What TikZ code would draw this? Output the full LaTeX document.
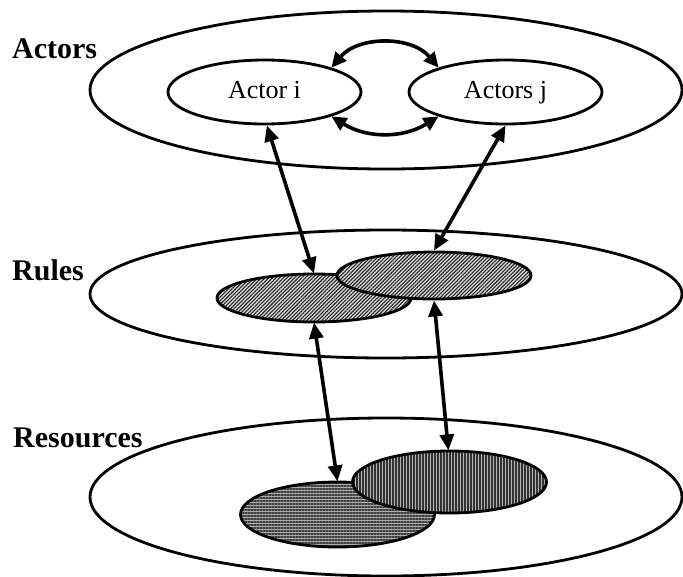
\documentclass[tikz,border=0pt]{standalone}
\usepackage{fontspec}
\setmainfont{Liberation Serif}
\usetikzlibrary{shapes.geometric,arrows.meta,patterns.meta}

\tikzset{
  layer/.style={ellipse, draw, line width=2.8pt, inner sep=0pt,
    minimum width=592pt, minimum height=#1},
  actorbox/.style={ellipse, draw, line width=2.8pt, inner sep=0pt,
    minimum width=193pt, minimum height=64pt,
    text height=17pt, text depth=5pt,
    font=\fontsize{26}{30}\selectfont},
  blob/.style={ellipse, draw, line width=2.8pt, inner sep=0pt,
    minimum width=194pt},
  rulefill/.style={preaction={fill=gray!30},
    pattern={Lines[angle=45,distance=2.6pt,line width=1.1pt]}, pattern color=black!85},
  resfillh/.style={preaction={fill=gray!65},
    pattern={Lines[angle=0,distance=3pt,line width=1.2pt]}, pattern color=black!75},
  resfillv/.style={preaction={fill=gray!60},
    pattern={Lines[angle=90,distance=3pt,line width=1.2pt]}, pattern color=black!80},
  layerlabel/.style={anchor=base west, inner sep=0pt,
    font=\fontsize{30}{36}\selectfont\bfseries},
  link/.style={line width=3.6pt, {Triangle[length=16pt,width=14pt]}-{Triangle[length=16pt,width=14pt]}},
  swap/.style={line width=3.6pt, {Triangle[length=15pt,width=14pt]}-{Triangle[length=15pt,width=14pt]}},
}

\begin{document}
\begin{tikzpicture}[x=1pt,y=-1pt]
\useasboundingbox (0,0) rectangle (683,576);

% the three layers
\node[layer=158pt] (actorsL) at (386,90) {};
\node[layer=128pt] (rulesL) at (386,294) {};
\node[layer=158pt] (resL) at (386,497) {};

\node[layerlabel] (lblA) at (12,58) {Actors};
\node[layerlabel] (lblR) at (12,280) {Rules};
\node[layerlabel] (lblS) at (13,447) {Resources};

% actors
\node[actorbox] (ai) at (264.5,92) {Actor i};
\node[actorbox] (aj) at (505.5,92) {Actors j};

% rules
\node[blob, minimum height=48pt, rulefill] (rl) at (314,298) {};
\node[blob, minimum height=47pt, rulefill] (rr) at (434,275.5) {};

% resources
\node[blob, minimum height=65pt, resfillh] (sl) at (337.5,514.5) {};
\node[blob, minimum height=62pt, resfillv] (sr) at (449.5,482) {};

% interactions between the actors
\draw[swap] (ai.20) to[bend left=50] (aj.160);
\draw[swap] (ai.-20) to[bend right=32] (aj.-160);

% links between layers
\draw[link] (ai.-86) -- (rl.north);
\draw[link] (aj.-90) -- (rr.north);
\draw[link] (rl.south) -- (sl.north);
\draw[link] (rr.south) -- (sr.92);
\end{tikzpicture}
\end{document}
